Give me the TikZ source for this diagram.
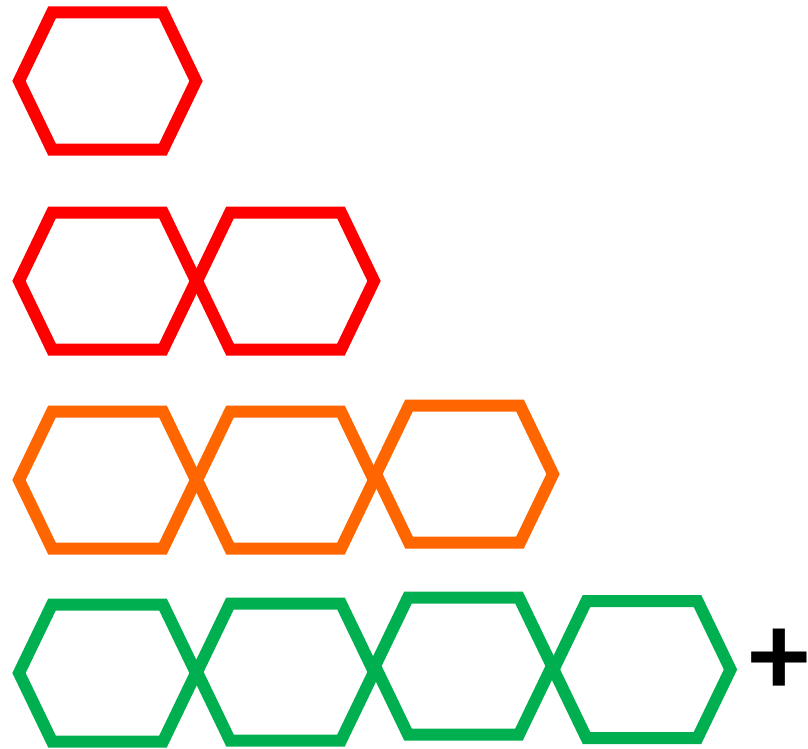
\documentclass[tikz,border=0pt]{standalone}
\usepackage{fontspec}
\newfontfamily\plusfont{Carlito}
\definecolor{hexred}{HTML}{FF0000}
\definecolor{hexorange}{HTML}{FF6600}
\definecolor{hexgreen}{HTML}{00B050}
\begin{document}
\begin{tikzpicture}[x=1pt,y=-1pt,
  hexline/.style={line width=12pt, line join=miter},
  plussign/.style={inner sep=0pt, font=\plusfont\bfseries\fontsize{120}{120}\selectfont}]
\useasboundingbox (0,0) rectangle (808,749);
\newcommand\hexat[3]{%
  \draw[hexline, draw=#1, shift={(#2,#3)}]
    (0,0) -- (33,-68.5) -- (144,-68.5) -- (177,0) -- (144,68.5) -- (33,68.5) -- cycle;}
% row 1
\hexat{hexred}{19}{81}
% row 2
\hexat{hexred}{19}{281}
\hexat{hexred}{197}{281}
% row 3
\hexat{hexorange}{19}{480}
\hexat{hexorange}{197}{480}
\hexat{hexorange}{376}{474}
% row 4
\hexat{hexgreen}{19}{673}
\hexat{hexgreen}{197}{672}
\hexat{hexgreen}{375}{666}
\hexat{hexgreen}{553.5}{669.5}
% plus
\node[plussign] (plus) at (779,662) {+};
\end{tikzpicture}
\end{document}
